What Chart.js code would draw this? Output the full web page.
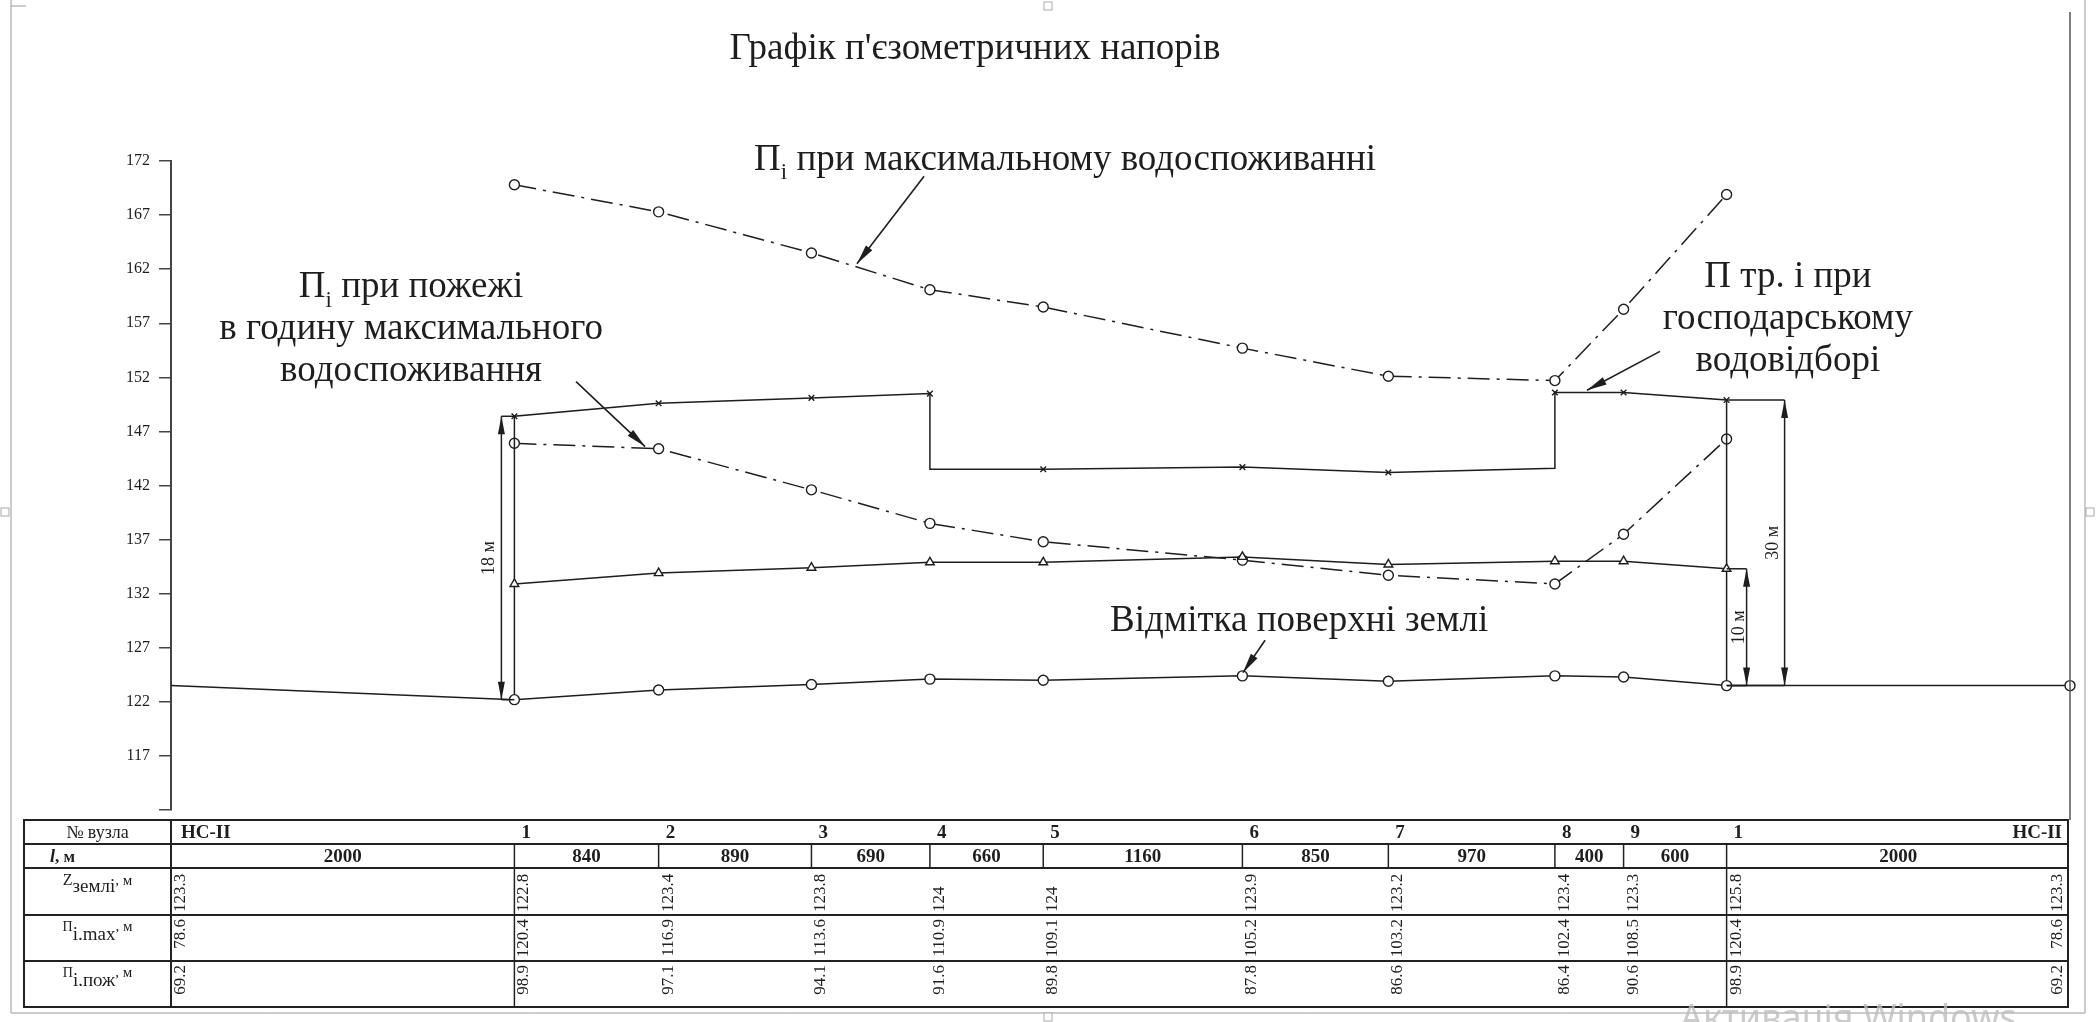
<!DOCTYPE html>
<html><head><meta charset="utf-8">
<script src="https://cdn.jsdelivr.net/npm/chart.js@4.4.1/dist/chart.umd.min.js"></script>
<style>html,body{margin:0;padding:0;background:#fff;}canvas{display:block;}</style>
</head><body>
<canvas id="c" width="2100" height="1022" style="width:2100px;height:1022px"></canvas>
<script>
// ---------- DATA ----------
const chartTitle = "Графік п'єзометричних напорів";
const nodeLabels = ['НС-II','1','2','3','4','5','6','7','8','9','1','НС-II'];
const segLengths = [2000,840,890,690,660,1160,850,970,400,600,2000];
const zGroundText = ['123.3','122.8','123.4','123.8','124','124','123.9','123.2','123.4','123.3','125.8','123.3'];
const pMaxText   = ['78.6','120.4','116.9','113.6','110.9','109.1','105.2','103.2','102.4','108.5','120.4','78.6'];
const pFireText  = ['69.2','98.9','97.1','94.1','91.6','89.8','87.8','86.6','86.4','90.6','98.9','69.2'];
const yTickValues = [112,117,122,127,132,137,142,147,152,157,162,167,172];
const yTickLabels = ['','117','122','127','132','137','142','147','152','157','162','167','172'];
// plotted lines
const groundLine   = [123.5,122.2,123.1,123.6,124.1,124.0,124.4,123.9,124.4,124.3,123.5,123.5]; // all 12 nodes
const requiredHead = [132.9,133.9,134.4,134.9,134.9,135.4,134.7,135.0,135.0,134.3];             // nodes 1..1
const maxHead      = [169.8,167.3,163.5,160.1,158.5,154.7,152.1,151.7,158.3,168.9];             // nodes 1..1
const fireHead     = [145.9,145.4,141.6,138.5,136.8,135.1,133.7,132.9,137.5,146.3];             // nodes 1..1
const domesticNode = [1,2,3,4,4,5,6,7,8,8,9,10];
const domesticHead = [148.4,149.6,150.1,150.5,143.5,143.5,143.7,143.2,143.6,150.6,150.6,149.9];
const dimTexts = ['18 м','10 м','30 м'];
const calloutTexts = [
  [[['П',''],['i','sub'],[' при максимальному водоспоживанні','']]],
  [[['П',''],['i','sub'],[' при пожежі','']],[['в годину максимального','']],[['водоспоживання','']]],
  [[['П тр. і при','']],[['господарському','']],[['водовідборі','']]],
  [[['Відмітка поверхні землі','']]]
];

// ---------- derived ----------
const nodeX = [0];
segLengths.forEach(d => nodeX.push(nodeX[nodeX.length-1] + d));
const innerX = nodeX.slice(1, 11);

const SERIF = "'Liberation Serif','Times New Roman',serif";
const INK = '#1e1e1e';

// callout placement (data units)
const callouts = [
  {lines:calloutTexts[0], x:5207, y:172.3, from:[4386,170.6], to:[3995,162.5]},
  {lines:calloutTexts[1], x:1398, y:160.5, from:[2359,151.6], to:[2761,145.6]},
  {lines:calloutTexts[2], x:9417, y:161.5, from:[8672,154.4], to:[8247,150.8]},
  {lines:calloutTexts[3], x:6570, y:129.7, from:[6372,127.7], to:[6243,124.7]}
];

function richText(ctx, segs, x, y, size, align, weight) {
  let w = 0;
  const parts = segs.map(([t,k,sz,dyf]) => {
    const s = sz || (k ? size*0.62 : size);
    ctx.font = `${weight||'normal'} ${s}px ${SERIF}`;
    const m = ctx.measureText(t).width; w += m;
    return {t,k,s,m,dyf};
  });
  let cx = align==='center' ? x - w/2 : (align==='right' ? x - w : x);
  ctx.textAlign = 'left'; ctx.textBaseline = 'alphabetic';
  for (const p of parts) {
    ctx.font = `${weight||'normal'} ${p.s}px ${SERIF}`;
    const dy = p.dyf !== undefined ? p.dyf : (p.k==='sub' ? size*0.25 : (p.k==='sup' ? -size*0.4 : 0));
    ctx.fillText(p.t, cx, y+dy);
    cx += p.m;
  }
}
function arrowHead(ctx, x1, y1, x2, y2, len, hw) {
  const a = Math.atan2(y2-y1, x2-x1);
  ctx.beginPath();
  ctx.moveTo(x2, y2);
  ctx.lineTo(x2 - len*Math.cos(a) + hw*Math.sin(a), y2 - len*Math.sin(a) - hw*Math.cos(a));
  ctx.lineTo(x2 - len*Math.cos(a) - hw*Math.sin(a), y2 - len*Math.sin(a) + hw*Math.cos(a));
  ctx.closePath(); ctx.fill();
}
function line(ctx, x1, y1, x2, y2) { ctx.beginPath(); ctx.moveTo(x1,y1); ctx.lineTo(x2,y2); ctx.stroke(); }

const drawing = {
  id:'drawing',
  afterDatasetsDraw(chart) {
    const ctx = chart.ctx, X = v => chart.scales.x.getPixelForValue(v), Y = v => chart.scales.y.getPixelForValue(v);
    ctx.save();
    ctx.strokeStyle = INK; ctx.fillStyle = INK; ctx.lineWidth = 1.5;
    // dimension lines
    const dims = [
      {t:dimTexts[0], node:1,  top:domesticHead[0], dx:-13, tdx:-7},
      {t:dimTexts[1], node:10, top:requiredHead[9], dx:20,  tdx:-3},
      {t:dimTexts[2], node:10, top:domesticHead[domesticHead.length-1], dx:58, tdx:-7}
    ];
    dims.forEach(d => {
      const nx = X(nodeX[d.node]), x = nx + d.dx, yb = Y(groundLine[d.node]), yt = Y(d.top);
      line(ctx, nx, yt, x, yt);
      line(ctx, nx, yb, x, yb);
      line(ctx, x, yt, x, yb);
      arrowHead(ctx, x, yb, x, yt, 18, 3.5);
      arrowHead(ctx, x, yt, x, yb, 18, 3.5);
      ctx.save();
      ctx.translate(x + d.tdx, (yt+yb)/2);
      ctx.rotate(-Math.PI/2);
      ctx.font = `18px ${SERIF}`; ctx.textAlign = 'center'; ctx.textBaseline = 'alphabetic';
      ctx.fillText(d.t, 0, 0);
      ctx.restore();
    });
    // callouts
    callouts.forEach(c => {
      const cx = X(c.x), cy = Y(c.y);
      c.lines.forEach((ln, i) => richText(ctx, ln, cx, cy + 12 + i*42, 37, 'center'));
      const fx = X(c.from[0]), fy = Y(c.from[1]), tx = X(c.to[0]), ty = Y(c.to[1]);
      ctx.lineWidth = 1.6;
      line(ctx, fx, fy, tx, ty);
      arrowHead(ctx, fx, fy, tx, ty, 20, 4);
    });
    ctx.restore();
  },
  afterDraw(chart) {
    const ctx = chart.ctx, X = v => chart.scales.x.getPixelForValue(v), a = chart.chartArea;
    ctx.save();
    // page frame
    ctx.strokeStyle = '#9a9a9a'; ctx.lineWidth = 1;
    line(ctx, 11, 0, 11, 1013); line(ctx, 11, 1013, 2085, 1013); line(ctx, 2085, 0, 2085, 1013);
    line(ctx, 11, 6, 26, 6);
    ctx.strokeStyle = '#555'; ctx.lineWidth = 1.5;
    line(ctx, a.right, 12, a.right, a.bottom + 10);
    ctx.strokeStyle = '#aaa'; ctx.lineWidth = 1; ctx.fillStyle = '#fff';
    [[5,512],[2090,512],[1048,1017],[1048,6]].forEach(([x,y]) => { ctx.fillRect(x-4,y-4,8,8); ctx.strokeRect(x-4,y-4,8,8); });
    // title
    ctx.fillStyle = INK;
    ctx.font = `37px ${SERIF}`; ctx.textAlign = 'center'; ctx.textBaseline = 'alphabetic';
    ctx.fillText(chartTitle, 975, 59);
    // table
    const L = 24, R = a.right - 2, H = a.left;
    const rows = [a.bottom + 10]; [24,24,47,46,46].forEach(h => rows.push(rows[rows.length-1] + h));
    ctx.strokeStyle = '#222'; ctx.lineWidth = 2;
    ctx.strokeRect(L, rows[0], R - L, rows[5] - rows[0]);
    for (let i = 1; i < 5; i++) line(ctx, L, rows[i], R, rows[i]);
    line(ctx, H, rows[0], H, rows[5]);
    ctx.lineWidth = 1.5;
    for (let i = 1; i <= 10; i++) {
      const x = X(nodeX[i]);
      line(ctx, x, rows[1], x, (i === 1 || i === 10) ? rows[5] : rows[2]);
    }
    // header column
    ctx.fillStyle = INK;
    const hc = (L + H) / 2;
    richText(ctx, [['№ вузла','']], hc, rows[0] + 18, 18, 'center');
    ctx.font = `italic bold 18px ${SERIF}`; ctx.textAlign = 'left'; ctx.fillText('l', 50, rows[1] + 18);
    ctx.font = `bold 17px ${SERIF}`; ctx.fillText(', м', 55, rows[1] + 18);
    richText(ctx, [['Z','',16,0],['землі','',19,7],[', м','',15,0]], hc, rows[2] + 17, 19, 'center');
    richText(ctx, [['П','',14,0],['i.max','',19,9],[', м','',15,0]], hc, rows[3] + 16, 19, 'center');
    richText(ctx, [['П','',14,0],['i.пож','',19,9],[', м','',15,0]], hc, rows[4] + 16, 19, 'center');
    // node labels
    ctx.font = `bold 19px ${SERIF}`; ctx.textBaseline = 'alphabetic';
    nodeLabels.forEach((t, i) => {
      const x = X(nodeX[i]);
      if (i === nodeLabels.length - 1) { ctx.textAlign = 'right'; ctx.fillText(t, x - 8, rows[0] + 18); }
      else { ctx.textAlign = 'left'; ctx.fillText(t, x + (i === 0 ? 10 : 7), rows[0] + 18); }
    });
    // lengths
    ctx.textAlign = 'center';
    segLengths.forEach((d, i) => ctx.fillText(String(d), (X(nodeX[i]) + X(nodeX[i+1])) / 2, rows[1] + 18));
    // rotated values
    ctx.font = `17px ${SERIF}`;
    const rot = (t, x, y, al) => { ctx.save(); ctx.translate(x, y); ctx.rotate(-Math.PI/2); ctx.textAlign = al; ctx.fillText(t, 0, 0); ctx.restore(); };
    nodeX.forEach((v, i) => {
      const x = i === nodeX.length - 1 ? X(v) - 8 : X(v) + 14;
      rot(zGroundText[i], x, rows[3] - 3, 'left');
      rot(pMaxText[i], x, rows[3] + 4, 'right');
      rot(pFireText[i], x, rows[4] + 4, 'right');
    });
    // watermark
    ctx.fillStyle = 'rgba(190,190,190,0.8)';
    ctx.font = `36px 'Noto Sans', sans-serif`; ctx.textAlign = 'left';
    ctx.fillText('Активація Windows', 1680, 1030);
    ctx.restore();
  }
};

const lineBase = {borderColor:INK, borderWidth:1.5, pointBorderColor:INK, pointBackgroundColor:'#fff', pointBorderWidth:1.4, tension:0, clip:false, fill:false};
const data = {datasets:[
  Object.assign({}, lineBase, {label:'Відмітка поверхні землі',
    data: nodeX.map((x,i) => ({x, y:groundLine[i]})), pointStyle:'circle',
    pointRadius: c => c.dataIndex === 0 ? 0 : 5}),
  Object.assign({}, lineBase, {label:'П тр.',
    data: innerX.map((x,i) => ({x, y:requiredHead[i]})), pointStyle:'triangle', pointRadius:5}),
  Object.assign({}, lineBase, {label:'П тр. і при господарському водовідборі',
    data: [{x:nodeX[1], y:groundLine[1]}]
      .concat(domesticNode.map((n,i) => ({x:nodeX[n], y:domesticHead[i]})))
      .concat([{x:nodeX[10], y:groundLine[10]}]),
    pointStyle:'crossRot',
    pointRadius: c => {
      const k = c.dataIndex - 1;
      if (k < 0 || k >= domesticNode.length) return 0;
      const n = domesticNode[k];
      const twin = domesticNode.findIndex((m,j) => m === n && j !== k);
      if (twin >= 0 && domesticHead[twin] > domesticHead[k]) return 0;
      return 4;
    }}),
  Object.assign({}, lineBase, {label:'Пi при максимальному водоспоживанні',
    data: innerX.map((x,i) => ({x, y:maxHead[i]})), pointStyle:'circle', pointRadius:5, borderDash:[22,7,3,7]}),
  Object.assign({}, lineBase, {label:'Пi при пожежі',
    data: innerX.map((x,i) => ({x, y:fireHead[i]})), pointStyle:'circle', pointRadius:5, borderDash:[22,7,3,7]})
]};

new Chart(document.getElementById('c'), {
  type:'line',
  data,
  options:{
    responsive:false, animation:false, devicePixelRatio:1,
    layout:{padding:{top:161, left:0, right:30, bottom:212}},
    plugins:{legend:{display:false}, title:{display:false}, tooltip:{enabled:false}},
    scales:{
      x:{type:'linear', display:false, min:0, max:nodeX[nodeX.length-1]},
      y:{type:'linear', min:yTickValues[0], max:yTickValues[yTickValues.length-1],
         afterFit(s){ s.width = 171; },
         afterBuildTicks(s){ s.ticks = yTickValues.map(v => ({value:v})); },
         ticks:{callback:(v) => { const i = yTickValues.indexOf(v); return i >= 0 ? yTickLabels[i] : ''; },
                font:{family:SERIF, size:16}, color:INK, padding:9},
         grid:{drawOnChartArea:false, drawTicks:true, tickLength:12, color:'#444', lineWidth:1.5},
         border:{display:true, color:'#444', width:2}}
    }
  },
  plugins:[drawing]
});
</script>
</body></html>
